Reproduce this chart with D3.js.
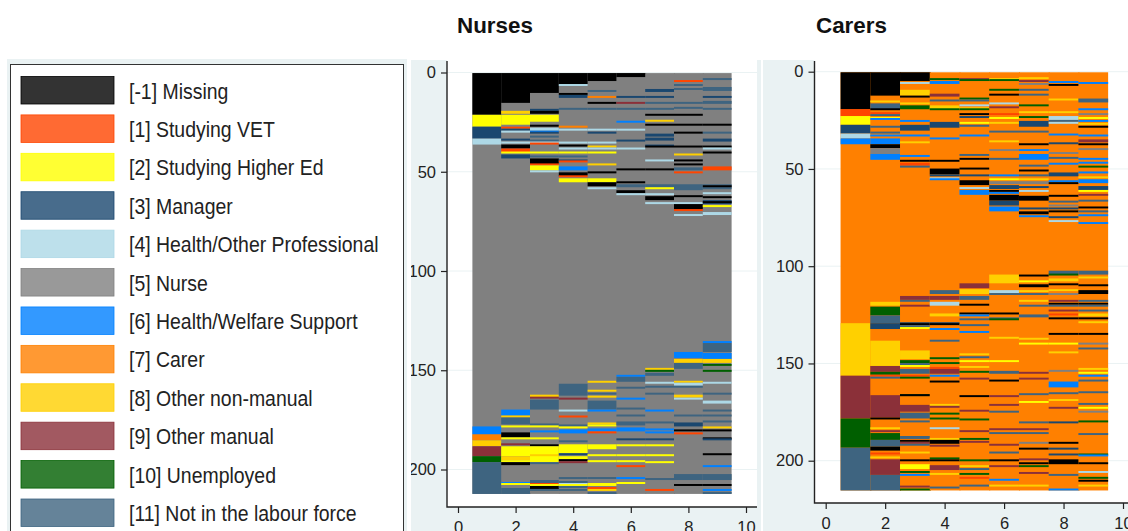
<!DOCTYPE html>
<html>
<head>
<meta charset="utf-8">
<script src="https://cdn.jsdelivr.net/npm/d3@7"></script>
<style>
  body { margin: 0; background: #fff; }
  svg { display: block; font-family: "Liberation Sans", Arial, sans-serif; }
</style>
</head>
<body>
<div id="viz"></div>
<script>
var stateCodes = [-1, 1, 2, 3, 4, 5, 6, 7, 8, 9, 10, 11];
var stateLabels = ['[-1] Missing', '[1] Studying VET', '[2] Studying Higher Ed', '[3] Manager',
    '[4] Health/Other Professional', '[5] Nurse', '[6] Health/Welfare Support', '[7] Carer',
    '[8] Other non-manual', '[9] Other manual', '[10] Unemployed', '[11] Not in the labour force'];
var stateColours = ['#000000', '#ff4500', '#ffff00', '#1a476f', '#add8e6', '#808080',
    '#0080ff', '#ff8000', '#ffd000', '#8b3039', '#005f00', '#3e6480'];

var waves = [1, 2, 3, 4, 5, 6, 7, 8, 9];
var xTicks = [0, 2, 4, 6, 8, 10];
var yTicks = [0, 50, 100, 150, 200];
var nursesRows = 212;
var carersRows = 215;

// each stripe is [state, first row, number of rows], everything else in the wave is the base job
var nursesWave1 = [[-1,0,21],[2,21,6],[3,27,6],[4,33,3],[6,178,4],[7,182,3],[8,185,3],[9,188,5],[10,193,3],[11,196,16]];
var nursesWave2 = [[-1,0,15],[8,19,1.5],[2,21,5],[1,27,1],[3,28,1],[4,29,1],[3,33,1],[4,35,.5],[-1,36,2],[1,38,2],[2,40,.5],[3,41,2],
    [6,169.5,3],[8,173,.5],[11,173.5,3.5],[2,178,.5],[-1,181,2.5],[2,184,.5],[9,187,.5],[2,188,5],[8,193,2],[2,195,1],[-1,196,1.5],[6,206.5,.5],[2,207,.5],[11,209,3]];
var nursesWave3 = [[-1,0,10],[3,18,1],[-1,19,1.5],[2,21,3.5],[-1,26,1],[4,27.5,1.5],[6,29,1],[3,30,.5],[11,32,.5],[11,34,.5],[4,35,.5],[1,35.5,.5],[2,40,.5],[11,42,.5],[-1,43,3],[1,46,.5],[2,46.5,2.5],[4,49.5,.5],
    [8,162,1.5],[9,163.5,.5],[11,164.5,5],[11,177,.5],[2,178,.5],[6,180,1],[2,184,.5],[-1,187.5,.5],[2,188,8],[8,192.5,.5],[11,196.5,.5],[11,205,1.5],[1,207,.5],[2,207.5,.5],[-1,208,1.5],[11,210,.5]];
var nursesWave4 = [[-1,0,6],[4,6,.5],[-1,10,1],[3,11,1.5],[11,18,.5],[7,27,.5],[4,28,1],[4,35,.5],[-1,36,1],[4,38,.5],[2,40,.5],[11,42,.5],[3,44,.5],[1,44.5,.5],[6,47,2],[-1,50,2],[1,52,.5],[2,53,2],
    [11,156.5,6],[9,164,.5],[4,170,.5],[1,173,.5],[11,177,1],[2,178.5,.5],[6,179.5,2],[11,185.5,.5],[2,187,4.5],[3,192,.5],[2,193,1.5],[-1,195,.5],[9,196,.5],[11,204,.5],[11,206,.5],[4,207,.5],[2,207.5,.5],[11,208.5,.5],[11,210,.5]];
var nursesWave5 = [[-1,0,4],[11,9,.5],[7,12,.5],[-1,15,.5],[11,18,.5],[4,28,1],[3,30,.5],[4,35,.5],[8,37,.5],[4,38,.5],[2,40,.5],[8,46,.5],[-1,50,.5],[2,53,2],[-1,55,2],[4,58,.5],
    [8,155.5,.5],[8,159.5,1],[11,161.5,.5],[8,162.5,1],[11,165,4.5],[6,170,.5],[8,176,1],[2,177,1],[6,179,1.5],[1,181,.5],[2,187,2.5],[2,192,1],[2,195,1],[11,204,.5],[2,206.5,1.5],[1,208.5,1.5],[8,210,.5],[11,211,1]];
var nursesWave6 = [[-1,0,2],[3,12,.5],[9,15,.5],[11,18,.5],[6,24,1],[4,28,1],[3,34,.5],[4,38,.5],[-1,48,1],[-1,55,.5],[11,56,1.5],[-1,59,1.5],[4,61,.5],
    [6,152.5,.5],[11,153,2.5],[11,158.5,.5],[6,164,.5],[11,169,.5],[11,172.5,.5],[11,175.5,2],[6,178.5,2],[3,184.5,.5],[2,187.5,.5],[2,192.5,.5],[2,195,1],[1,198,.5],[6,204,.5],[2,206.5,.5]];
var nursesWave7 = [[3,8,1.5],[3,12,.5],[11,15,.5],[11,18,.5],[-1,21,.5],[8,24,.5],[-1,26,.5],[3,30.5,1.5],[3,32.5,1.5],[3,36,1],[-1,37,.5],[4,44,.5],[-1,48,1],[11,56,1.5],[2,58,.5],[4,61,.5],[-1,62,2],[4,65,1],
    [8,149,.5],[10,149.5,1],[11,151,1.5],[4,156,.5],[11,158,.5],[11,161.5,.5],[6,170,.5],[11,175.5,1],[6,179.5,.5],[6,181,.5],[3,184.5,.5],[2,187.5,.5],[2,192.5,.5],[2,196,.5],[11,204.5,.5],[1,210,.5]];
var nursesWave8 = [[1,4,.5],[11,6,.5],[11,8,.5],[11,15,.5],[11,17,1],[-1,21,.5],[-1,26,.5],[-1,30,.5],[-1,37,.5],[8,41,.5],[-1,44,.5],[-1,46,.5],[11,47.5,1.5],[1,50,.5],[11,56,3],[-1,62,.5],[4,65,1],[-1,66,3],[1,69,.5],[4,71,1],
    [6,140.5,3],[8,144,2],[11,146,3],[8,155.5,.5],[4,156,1.5],[11,158,.5],[8,162,1.5],[4,164,.5],[11,172.5,.5],[3,176,2],[-1,179.5,1],[1,181.5,.5],[11,202,3],[-1,207.5,.5]];
var nursesWave9 = [[11,3,.5],[11,7,2],[3,12,.5],[11,14,1.5],[11,18,.5],[-1,26,.5],[11,30,.5],[3,33,1.5],[-1,37,.5],[4,38,.5],[-1,40,.5],[1,47,2],[11,56,2.5],[-1,57,.5],[4,60.5,.5],[-1,62,1],[3,64,2],[-1,65,.5],[2,67,.5],[4,70,1.5],
    [6,135.5,.5],[11,136,4.5],[6,141,3],[8,144,2],[10,147,.5],[10,150,.5],[4,156,.5],[11,161.5,.5],[4,165,1.5],[11,170,.5],[11,172.5,.5],[11,175.5,.5],[8,178.5,.5],[-1,179.5,1],[-1,184,.5],[3,184.5,.5],[-1,192,.5],[6,198,.5],[11,202,3],[-1,207.5,.5],[6,210,.5],[11,211,1]];

var carersWave1 = [[-1,0,19],[1,19,3.5],[2,22.5,4.5],[3,27,4.5],[4,31.5,2.5],[6,34,3],[8,129,27],[9,156,22],[10,178,15],[11,193,22]];
var carersWave2 = [[-1,0,12],[8,15,.5],[11,16,3],[-1,19,.5],[1,20.5,1],[11,22,.5],[2,23,1],[6,24,.5],[11,28,.5],[11,31,.5],[6,32,1],[6,34,3],[-1,37,2],[5,39,3],[6,42,3],
    [8,118,2],[10,120.5,4.5],[11,125,4],[3,129,3],[8,138,13],[9,151,3],[10,154,1.5],[1,156,.5],[11,157,.5],[9,166,11.5],[-1,178,.5],[8,183,.5],[9,184,1],[10,185.5,3.5],[11,189,3.5],[-1,192.5,2],[1,196,.5],[8,198,.5],[9,199,8],[11,207,8]];
var carersWave3 = [[-1,0,4.5],[4,5,1],[8,9,3],[-1,12.5,.5],[8,16,.5],[10,17,2],[6,25,.5],[3,27,3],[6,32,1],[8,36,.5],[6,42.5,1],[-1,45.5,.5],[1,46.5,1.5],[11,48.5,.5],
    [9,115,2],[11,117.5,.5],[9,120,.5],[3,129,.5],[-1,129.5,.5],[11,130.5,.5],[2,131.5,.5],[8,143,4.5],[10,148,1.5],[11,150,.5],[2,151,.5],[11,152.5,2.5],[1,156,.5],[10,157,.5],[10,165.5,1],[-1,166,.5],[9,171,3.5],[11,175,3],[11,179.5,.5],[11,187,1.5],[-1,189.5,.5],[9,190.5,.5],[11,191.5,.5],[8,195.5,.5],[-1,199,1],[2,201.5,2.5],[10,205,1],[6,207,.5],[9,213,.5],[10,214.5,.5]];
var carersWave4 = [[10,3.5,.5],[6,4.5,1.5],[9,11,1.5],[11,14,1],[8,17,2],[10,19,.5],[3,25.5,3],[6,34,.5],[-1,45.5,.5],[-1,49.5,3],[3,53,.5],[4,54.5,.5],[6,55,.5],
    [11,112,2],[9,115,2],[4,118,2],[8,124,1.5],[3,129,.5],[-1,129.5,.5],[6,132,.5],[11,138,.5],[10,147,.5],[10,149.5,.5],[1,151.5,1],[9,152.5,2.5],[6,156,.5],[-1,159,.5],[8,171,.5],[9,172,.5],[10,175,1],[10,178,.5],[4,183,.5],[8,188.5,.5],[-1,189,2],[9,192,.5],[10,198.5,.5],[-1,199,1],[9,202,2.5],[8,206.5,.5],[11,213.5,.5]];
var carersWave5 = [[9,3.5,.5],[10,4,.5],[10,13,1],[11,14.5,.5],[4,16.5,1],[8,18,1],[10,19,.5],[-1,21.5,.5],[3,23,.5],[2,26,.5],[11,27.5,.5],[6,32,1],[11,42.5,.5],[-1,44,1],[-1,49.5,.5],[3,53,.5],[-1,55.5,2.5],[4,59,1],[6,60.5,2.5],
    [9,108.5,2.5],[8,111.5,2.5],[11,115,2],[-1,119.5,.5],[-1,124,.5],[6,124.5,1],[11,127,.5],[11,130,.5],[6,133,1],[8,145,.5],[11,146.5,.5],[2,148.5,.5],[8,151,1],[10,154,.5],[9,157.5,.5],[-1,166,1],[9,174,.5],[10,178,1],[9,184,1],[10,188.5,.5],[9,190,.5],[10,199,1],[8,202,1],[11,204,.5],[10,206.5,.5],[1,208,1],[11,212.5,.5]];
var carersWave6 = [[8,3.5,.5],[10,4,.5],[10,9,.5],[-1,11,1],[4,16,.5],[9,17.5,1],[1,21.5,.5],[2,23,1],[8,26,.5],[11,30.5,.5],[8,35,1],[5,40,.5],[11,44,1],[6,53,.5],[2,55,.5],[5,56,1.5],[3,58,2],[-1,61,.5],[6,62,.5],[-1,63,3],[3,66,2.5],[6,69,2.5],
    [8,104,4.5],[4,112,1.5],[11,114,.5],[-1,124,.5],[11,126.5,.5],[10,127,.5],[8,136,1],[2,148.5,.5],[11,153.5,1.5],[-1,158.5,.5],[9,166,1],[9,171,.5],[11,174.5,.5],[9,183.5,.5],[11,185.5,.5],[9,191.5,.5],[11,195.5,.5],[-1,199,1],[9,202,1],[6,209.5,.5],[8,212.5,.5]];
var carersWave7 = [[8,3,.5],[9,4.5,.5],[5,6,.5],[11,9,.5],[11,11,1],[10,17,.5],[8,20.5,.5],[10,22.5,1],[3,25,3],[11,30.5,.5],[-1,37,.5],[6,40,.5],[6,42,3],[11,48,.5],[-1,50,1],[11,53,.5],[8,55,.5],[5,56,1.5],[3,58.5,1],[4,61,.5],[-1,63.5,2.5],[3,70,.5],[-1,71.5,1.5],[6,73.5,1],
    [-1,104.5,.5],[2,107.5,.5],[-1,109,1.5],[8,112,1],[11,114,.5],[8,117.5,.5],[11,120,.5],[11,124.5,1.5],[8,136.5,1],[2,139,1],[9,154,1],[9,157.5,.5],[11,165.5,.5],[2,169.5,.5],[11,180,.5],[9,183.5,.5],[11,185.5,.5],[5,190,1],[-1,193.5,.5],[9,199,.5],[-1,200.5,1],[10,202,1],[9,205.5,1],[8,212.5,.5]];
var carersWave8 = [[6,4.5,1],[-1,6.5,.5],[8,14,.5],[8,20,1],[4,22.5,2],[11,25,.5],[4,26,.5],[6,32,.5],[3,36.5,.5],[5,41,1],[11,44,.5],[6,46.5,1],[3,51.5,2],[6,55.5,1],[-1,57,.5],[-1,63.5,.5],[11,66.5,.5],[5,68.5,.5],[3,70,.5],[-1,71.5,.5],[3,74.5,.5],[4,76,1],
    [11,102,2],[10,104,.5],[8,106,1.5],[-1,109,.5],[8,111.5,1],[5,114,.5],[9,117.5,.5],[-1,118.5,1],[11,120,.5],[9,122.5,.5],[1,124,1],[-1,126.5,.5],[-1,134.5,.5],[2,139,1],[8,144,.5],[5,153.5,.5],[6,159,3],[11,165,.5],[8,168.5,.5],[9,172,1],[3,180,.5],[-1,190,1],[3,193.5,.5],[3,196,1],[-1,199,2.5],[11,207,.5],[6,214.5,.5]];
var carersWave9 = [[6,5,1],[11,13.5,2],[6,19,.5],[5,21.5,.5],[2,23,1],[6,25,.5],[8,26.5,.5],[-1,28,.5],[6,32.5,.5],[9,34.5,1.5],[-1,37,.5],[5,39.5,.5],[6,44,1],[6,46.5,.5],[10,48.5,.5],[6,51.5,.5],[8,54,.5],[6,55,2],[3,58.5,2],[2,61,.5],[9,63,.5],[11,66,.5],[-1,69.5,.5],[11,71.5,.5],[6,73,1],[6,77.5,.5],
    [11,102,2],[8,105,1],[-1,109,1],[-1,112,2],[11,117.5,.5],[-1,118.5,1],[11,120,.5],[11,122.5,.5],[8,124,1.5],[-1,126.5,.5],[8,128.5,.5],[-1,134.5,.5],[5,139,1],[11,142,.5],[8,152.5,.5],[2,154,1],[6,156,.5],[11,158.5,.5],[11,164.5,.5],[11,170.5,.5],[2,172,1],[5,174.5,.5],[10,179.5,.5],[11,186,.5],[10,196.5,.5],[6,197,.5],[-1,201,.5],[4,205,1],[10,208,1],[-1,210,.5],[8,212.5,.5]];

var nursesWaves = [nursesWave1, nursesWave2, nursesWave3, nursesWave4, nursesWave5, nursesWave6, nursesWave7, nursesWave8, nursesWave9];
var carersWaves = [carersWave1, carersWave2, carersWave3, carersWave4, carersWave5, carersWave6, carersWave7, carersWave8, carersWave9];

var panelBg = '#eaf2f3',
    inkColour = '#222';

var colour = d3.scaleOrdinal().domain(stateCodes).range(stateColours);

var svg = d3.select('#viz').append('svg')
    .attr('width', 1128)
    .attr('height', 531);

function drawPanel(opts) {
    var x = d3.scaleLinear().domain([0, 10]).range(opts.xRange),
        y = d3.scaleLinear().domain([0, 200]).range(opts.yRange);

    var g = svg.append('g');

    g.append('rect')
        .attr('x', opts.bgLeft).attr('y', opts.top - 1)
        .attr('width', opts.bgRight - opts.bgLeft).attr('height', 531 - opts.top + 1)
        .attr('fill', panelBg);
    g.append('rect')
        .attr('x', opts.axisX).attr('y', opts.top - 1)
        .attr('width', opts.plotRight - opts.axisX).attr('height', opts.axisY - opts.top + 1)
        .attr('fill', '#fff');

    g.selectAll('line.grid').data(yTicks).enter().append('line')
        .attr('class', 'grid')
        .attr('x1', opts.axisX).attr('x2', opts.plotRight)
        .attr('y1', function(d) { return y(d) })
        .attr('y2', function(d) { return y(d) })
        .attr('stroke', panelBg)
        .attr('stroke-width', 1);

    var rowY = function(r) { return y(r + opts.rowOffset) };

    // one person is one row, so a stripe read thinner than that still gets a full row
    var stripeTop = function(d) { return d.start - (Math.max(d.len, 1) - d.len) };
    var stripeRows = function(d) { return Math.max(d.len, 1) };

    // columns run a little under the next one, otherwise the white shows between them
    var waveWidth = function(w) { return x(w + 0.5) - x(w - 0.5) + (w < 9 ? 1 : 0) };

    var marks = g.append('g').style('filter', 'blur(0.4px)');

    var columns = marks.selectAll('g.wave').data(waves).enter().append('g')
        .attr('class', 'wave');

    columns.append('rect')
        .attr('x', function(d) { return x(d - 0.5) })
        .attr('width', function(d) { return waveWidth(d) })
        .attr('y', rowY(0))
        .attr('height', rowY(opts.rows) - rowY(0))
        .attr('fill', colour(opts.baseState));

    columns.selectAll('rect.stripe')
        .data(function(d, i) {
            return opts.data[i].map(function(s) { return { wave: d, state: s[0], start: s[1], len: s[2] } })
        })
        .enter().append('rect')
        .attr('class', 'stripe')
        .attr('x', function(d) { return x(d.wave - 0.5) })
        .attr('width', function(d) { return waveWidth(d.wave) })
        .attr('y', function(d) { return rowY(stripeTop(d)) })
        .attr('height', function(d) { return rowY(stripeRows(d)) - rowY(0) })
        .attr('fill', function(d) { return colour(d.state) });

    var yAxis = d3.axisLeft(y).tickValues(yTicks).tickSize(6).tickPadding(5);
    var xAxis = d3.axisBottom(x).tickValues(xTicks).tickSize(6).tickPadding(8);

    var yGuide = g.append('g')
        .attr('transform', 'translate(' + opts.axisX + ',0)')
        .call(yAxis);
    var xGuide = g.append('g')
        .attr('transform', 'translate(0,' + opts.axisY + ')')
        .call(xAxis);

    [yGuide, xGuide].forEach(function(guide) {
        guide.select('.domain').remove();
        guide.selectAll('line').attr('stroke', inkColour).attr('stroke-width', 1.2);
        guide.selectAll('text')
            .attr('fill', inkColour)
            .style('font-family', '"Liberation Sans", Arial, sans-serif')
            .style('font-size', '16.5px');
    });

    g.append('path')
        .attr('d', 'M' + opts.axisX + ',' + opts.top + 'V' + opts.axisY + 'H' + opts.plotRight)
        .attr('fill', 'none')
        .attr('stroke', inkColour)
        .attr('stroke-width', 1.4);

    g.append('text')
        .attr('x', opts.titleX)
        .attr('y', 33)
        .attr('font-size', 22.4)
        .attr('font-weight', 'bold')
        .attr('fill', '#111')
        .text(opts.title);
}

drawPanel({
    title: 'Nurses', titleX: 457,
    data: nursesWaves, baseState: 5, rows: nursesRows, rowOffset: 0.3,
    xRange: [458, 746], yRange: [72.5, 469.5],
    axisX: 447, axisY: 507, plotRight: 757, top: 61, bgLeft: 411, bgRight: 761
});

drawPanel({
    title: 'Carers', titleX: 816,
    data: carersWaves, baseState: 7, rows: carersRows, rowOffset: 0.3,
    xRange: [825.7, 1123], yRange: [71.7, 460.7],
    axisX: 814.5, axisY: 503, plotRight: 1128, top: 61, bgLeft: 763, bgRight: 1128
});

// legend sits over the left edge of the first panel's labels
var legend = svg.append('g');

legend.append('rect')
    .attr('x', 0).attr('y', 0).attr('width', 411).attr('height', 531).attr('fill', '#fff');
legend.append('rect')
    .attr('x', 7).attr('y', 59).attr('width', 400).attr('height', 472).attr('fill', panelBg);
legend.append('rect')
    .attr('x', 10.5).attr('y', 64.5).attr('width', 393).attr('height', 480)
    .attr('fill', '#fff').attr('stroke', '#333').attr('stroke-width', 1);

var legendY = d3.scalePoint().domain(stateCodes).range([90.5, 513]);

var items = legend.selectAll('g.item').data(stateCodes).enter().append('g')
    .attr('class', 'item')
    .attr('transform', function(d) { return 'translate(0,' + legendY(d) + ')' });

items.append('rect')
    .attr('x', 21).attr('y', -14).attr('width', 93).attr('height', 27.5)
    .attr('fill', function(d) { return colour(d) })
    .attr('fill-opacity', 0.8)
    .attr('stroke', function(d) { return colour(d) })
    .attr('stroke-width', 0.8);

items.append('text')
    .attr('transform', 'translate(129,8) scale(0.884,1)')
    .attr('font-size', 22)
    .attr('fill', inkColour)
    .text(function(d, i) { return stateLabels[i] });
</script>
</body>
</html>
